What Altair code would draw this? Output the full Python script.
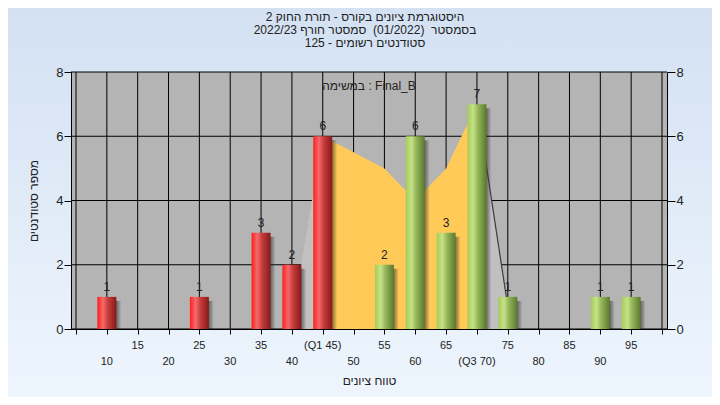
import altair as alt
import pandas as pd

# ---------------- data ----------------
bins = [10, 15, 20, 25, 30, 35, 40, 45, 50, 55, 60, 65, 70, 75, 80, 85, 90, 95]
counts = [1, 0, 0, 1, 0, 3, 2, 6, 0, 2, 6, 3, 7, 1, 0, 0, 1, 1]
red_upto = 45  # bars up to this grade are drawn red, the rest green

curve_x = [40, 45, 50, 55, 60, 65, 70, 75]
curve_y = [0.3, 6, 5.5, 5, 4, 5, 7, 0.7]
q1, q3 = 45, 70

grid_x = list(range(5, 101, 5))
y_ticks = [0, 2, 4, 6, 8]

row1_vals = [15, 25, 35, 45, 55, 65, 75, 85, 95]
row1_labels = ["15", "25", "35", "(Q1 45)", "55", "65", "75", "85", "95"]
row2_vals = [10, 20, 30, 40, 50, 60, 70, 80, 90]
row2_labels = ["10", "20", "30", "40", "50", "60", "(Q3 70)", "80", "90"]

title_lines = [
    "היסטוגרמת ציונים בקורס - תורת החוק 2",
    "בסמסטר \u00a0(01/2022) \u00a0סמסטר חורף 2022/23",
    "סטודנטים רשומים - 125",
]
inner_text = "במשימה : Final_B"
x_title = "טווח ציונים"
y_title = "מספר סטודנטים"

# ---------------- layout ----------------
W, H = 596, 257
PAD = {"left": 63, "top": 64, "right": 45, "bottom": 68}
FONT = "Liberation Sans"
TXT = "#222222"

xs = alt.Scale(domain=[5, 100], nice=False, zero=False)
ys = alt.Scale(domain=[0, 8], nice=False, zero=True)

bars = pd.DataFrame({"g": bins, "n": counts})
bars = bars[bars["n"] > 0].copy()
bars["grp"] = ["red" if g <= red_upto else "green" for g in bars["g"]]

seg_rows = []
for x, y in zip(curve_x, curve_y):
    if x <= q1:
        seg_rows.append({"cx": x, "cy": y, "seg": "left"})
    if q1 <= x <= q3:
        seg_rows.append({"cx": x, "cy": y, "seg": "mid"})
    if x >= q3:
        seg_rows.append({"cx": x, "cy": y, "seg": "right"})
curve = pd.DataFrame(seg_rows)

one = pd.DataFrame({"a": [0]})


def grad(stops, vertical=False):
    return alt.LinearGradient(
        gradient="linear",
        stops=[alt.GradientStop(color=c, offset=o) for o, c in stops],
        x1=0, x2=0 if vertical else 1, y1=0, y2=1 if vertical else 0,
    )


bg = alt.Chart(one).mark_rect(
    color=grad([(0, "#d3e1f3"), (1, "#eef5fd")], vertical=True)
).encode(
    x=alt.value(-PAD["left"]), x2=alt.value(W + PAD["right"]),
    y=alt.value(-PAD["top"]), y2=alt.value(H + PAD["bottom"]),
)

plotbg = alt.Chart(one).mark_rect(color="#b4b4b4").encode(
    x=alt.value(0), x2=alt.value(W), y=alt.value(0), y2=alt.value(H)
)

vgrid = alt.Chart(pd.DataFrame({"gx": grid_x})).mark_rule(color="black", strokeWidth=1).encode(
    x=alt.X("gx:Q", scale=xs, axis=None), y=alt.value(0), y2=alt.value(H)
)
hgrid = alt.Chart(pd.DataFrame({"gy": y_ticks})).mark_rule(color="black", strokeWidth=1).encode(
    y=alt.Y("gy:Q", scale=ys, axis=None), x=alt.value(0), x2=alt.value(W)
)


def seg_area(seg, color):
    return alt.Chart(curve).transform_filter(f"datum.seg == '{seg}'").mark_area(
        color=color, opacity=1
    ).encode(
        x=alt.X("cx:Q", scale=xs, axis=None),
        y=alt.Y("cy:Q", scale=ys, axis=None),
    )


area_left = seg_area("left", "#c0c0c0")
area_mid = seg_area("mid", "#ffca58")
area_right = seg_area("right", "#c0c0c0")
edge = alt.Chart(curve).transform_filter("datum.seg == 'right'").mark_line(
    color="#3c3c3c", strokeWidth=1.2
).encode(
    x=alt.X("cx:Q", scale=xs, axis=None),
    y=alt.Y("cy:Q", scale=ys, axis=None),
)

shadow = alt.Chart(bars).mark_bar(
    width=19, xOffset=5, yOffset=4,
    color=grad([(0, "rgba(30,30,30,0.85)"), (0.7, "rgba(30,30,30,0.6)"), (1, "rgba(30,30,30,0)")]),
).encode(
    x=alt.X("g:Q", scale=xs, axis=None),
    y=alt.Y("n:Q", scale=ys, axis=None),
    y2=alt.datum(0),
)

red_fill = grad([(0, "#ff1e1e"), (0.3, "#f46a6a"), (0.55, "#c83c3c"), (1, "#861a1a")])
green_fill = grad([(0, "#a4cc58"), (0.3, "#c6e287"), (0.55, "#96b65a"), (1, "#587a2c")])

red_bars = alt.Chart(bars).transform_filter("datum.grp == 'red'").mark_bar(
    width=19, color=red_fill
).encode(
    x=alt.X("g:Q", scale=xs,
            axis=alt.Axis(values=grid_x, labels=False, ticks=True, tickSize=5, tickColor="black",
                          domainColor="black", grid=False, title=x_title, titleFont=FONT,
                          titleFontSize=12, titleFontWeight="normal", titleColor=TXT,
                          titlePadding=41, zindex=1)),
    y=alt.Y("n:Q", scale=ys,
            axis=alt.Axis(values=y_ticks, tickSize=7, tickColor="black", domainColor="black",
                          grid=False, labelFont=FONT, labelFontSize=13, labelColor=TXT,
                          labelPadding=1, title=y_title, titleFont=FONT, titleFontSize=12,
                          titleFontWeight="normal", titleColor=TXT, titlePadding=15, zindex=1)),
)
green_bars = alt.Chart(bars).transform_filter("datum.grp == 'green'").mark_bar(
    width=19, color=green_fill
).encode(
    x=alt.X("g:Q", scale=xs, axis=None),
    y=alt.Y("n:Q", scale=ys,
            axis=alt.Axis(orient="right", values=y_ticks, tickSize=8, tickColor="black",
                          domainColor="black", grid=False, labelFont=FONT, labelFontSize=13,
                          labelColor=TXT, labelPadding=1, title=None, zindex=1)),
)

bar_labels = alt.Chart(bars).mark_text(
    baseline="bottom", dy=-3, font=FONT, fontSize=12, color=TXT
).encode(
    x=alt.X("g:Q", scale=xs, axis=None),
    y=alt.Y("n:Q", scale=ys, axis=None),
    text="n:Q",
)

row1 = alt.Chart(pd.DataFrame({"v": row1_vals, "t": row1_labels})).mark_text(
    baseline="middle", font=FONT, fontSize=11, color=TXT
).encode(x=alt.X("v:Q", scale=xs, axis=None), y=alt.value(274), text="t:N")
row2 = alt.Chart(pd.DataFrame({"v": row2_vals, "t": row2_labels})).mark_text(
    baseline="middle", font=FONT, fontSize=11, color=TXT
).encode(x=alt.X("v:Q", scale=xs, axis=None), y=alt.value(290), text="t:N")

inner = alt.Chart(pd.DataFrame({"t": [inner_text]})).mark_text(
    baseline="middle", font=FONT, fontSize=12, color=TXT
).encode(x=alt.value(W / 2), y=alt.value(14), text="t:N")

title = alt.Chart(one).mark_text(
    text=title_lines, baseline="top", lineHeight=13, font=FONT, fontSize=12, color=TXT
).encode(x=alt.value(W / 2 - 4), y=alt.value(-60))

chart = alt.layer(
    bg, plotbg, vgrid, hgrid, area_left, area_mid, area_right, shadow, edge,
    red_bars, green_bars, bar_labels, row1, row2, inner, title,
).resolve_axis(x="independent", y="independent").properties(
    width=W, height=H,
    autosize=alt.AutoSizeParams(type="none"),
    padding=PAD,
    background="#e2ebf7",
).configure_view(stroke=None)

chart.save("out.html", embed_options={"renderer": "svg", "actions": False})
